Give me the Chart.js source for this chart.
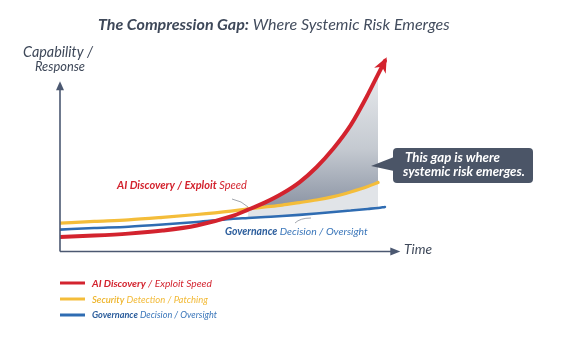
<!DOCTYPE html>
<html><head><meta charset="utf-8">
<script src="https://cdn.jsdelivr.net/npm/chart.js@4/dist/chart.umd.min.js"></script>
<style>html,body{margin:0;padding:0;background:#fff;overflow:hidden}#wrap{width:580px;height:340px}</style>
</head><body><div id="wrap"><canvas id="c" width="580" height="340"></canvas></div>
<script>
// ---- data ----
const timeSteps          = [0, 10, 20, 30, 40, 50, 55, 60, 65, 70, 75, 80, 85, 90, 93, 95];
const aiDiscovery        = [7.3, 8.0, 9.0, 10.6, 13.2, 17.9, 21.4, 25.2, 29.8, 35.6, 43.4, 53.2, 65.2, 81.0, 91.5, 98.5];
const securityDetection  = [14.4, 15.3, 16.1, 17.4, 18.9, 20.7, 21.8, 22.8, 23.8, 25.1, 26.4, 28.2, 30.6, 33.4, 35.5, null];
const governanceDecision = [11.1, 11.9, 12.6, 13.7, 15.0, 16.6, 17.1, 17.6, 18.1, 18.7, 19.4, 20.2, 21.0, 21.8, 22.3, 22.8];
const gapRange = [55, 93];
const legendLead = ['AI Discovery', 'Security', 'Governance'];
const legendTail = [' / Exploit Speed', ' Detection / Patching', ' Decision / Oversight'];
const titleMain = 'The Compression Gap:';
const titleSub = ' Where Systemic Risk Emerges';
const yTitle = ['Capability /', 'Response'];
const xTitle = 'Time';
const calloutText = ['This gap is where', 'systemic risk emerges.'];

const RED = '#d3232e', YEL = '#f4bd3a', BLU = '#2f6cb2', SLATE = '#3e4859';
const FONT = 'Lato, "Open Sans", "DejaVu Sans", sans-serif';

const pts = arr => timeSteps.map((t, i) => ({x: t, y: arr[i]}));
const inGap = arr => timeSteps.map((t, i) => ({x: t, y: (t >= gapRange[0] && t <= gapRange[1]) ? arr[i] : null}));

function drawRich(ctx, parts, x, y, targetW, baseSize, align) {
  const fontOf = (p, s) => `${p.st || 'italic'} ${p.w || 'normal'} ${s}px ${FONT}`;
  let w = 0;
  parts.forEach(p => { ctx.font = fontOf(p, baseSize); w += ctx.measureText(p.t).width; });
  const size = targetW ? baseSize * targetW / w : baseSize;
  let total = 0;
  parts.forEach(p => { ctx.font = fontOf(p, size); total += ctx.measureText(p.t).width; });
  let cx = align === 'center' ? x - total / 2 : x;
  parts.forEach(p => {
    ctx.font = fontOf(p, size);
    ctx.fillStyle = p.c;
    ctx.fillText(p.t, cx, y);
    cx += ctx.measureText(p.t).width;
  });
}

const deco = {
  id: 'deco',
  afterDatasetsDraw(chart) {
    const {ctx, scales: {x, y}} = chart;
    ctx.save();
    // red arrowhead
    const meta = chart.getDatasetMeta(0);
    const P = meta.data;
    const last = P[P.length - 1], prev = P[P.length - 2];
    const fx = (last.cp1x !== undefined) ? last.cp1x : prev.x;
    const fy = (last.cp1y !== undefined) ? last.cp1y : prev.y;
    const ang = Math.atan2(last.y - fy, last.x - fx);
    const dx = Math.cos(ang), dy = Math.sin(ang), nx = -dy, ny = dx;
    const tipX = last.x + dx * 4, tipY = last.y + dy * 4;
    const bx = tipX - dx * 15, by = tipY - dy * 15;
    ctx.fillStyle = RED;
    ctx.beginPath();
    ctx.moveTo(tipX, tipY);
    ctx.lineTo(bx + nx * 6.5, by + ny * 6.5);
    ctx.lineTo(tipX - dx * 10.5, tipY - dy * 10.5);
    ctx.lineTo(bx - nx * 6.5, by - ny * 6.5);
    ctx.closePath();
    ctx.fill();

    // axes
    const ox = x.getPixelForValue(0), oy = y.getPixelForValue(0) + 0.5;
    const topY = y.getPixelForValue(88), rightX = x.getPixelForValue(99.5);
    ctx.strokeStyle = '#4b5871'; ctx.fillStyle = '#4b5871'; ctx.lineWidth = 1.6;
    ctx.beginPath(); ctx.moveTo(ox, oy); ctx.lineTo(ox, topY + 6); ctx.stroke();
    ctx.beginPath(); ctx.moveTo(ox, topY); ctx.lineTo(ox - 4, topY + 9); ctx.lineTo(ox + 4, topY + 9); ctx.closePath(); ctx.fill();
    ctx.beginPath(); ctx.moveTo(ox, oy); ctx.lineTo(rightX - 6, oy); ctx.stroke();
    ctx.beginPath(); ctx.moveTo(rightX, oy); ctx.lineTo(rightX - 10, oy - 4); ctx.lineTo(rightX - 10, oy + 4); ctx.closePath(); ctx.fill();

    ctx.textBaseline = 'alphabetic';
    // title
    drawRich(ctx, [{t: titleMain, w: 'bold', c: SLATE}, {t: titleSub, c: '#434d5e'}], 98, 30, 352, 15);
    // y title
    drawRich(ctx, [{t: yTitle[0], c: SLATE}], 58, 57, 70, 12, 'center');
    drawRich(ctx, [{t: yTitle[1], c: SLATE}], 60, 71, 50, 12, 'center');
    // x title
    drawRich(ctx, [{t: xTitle, c: SLATE}], 404, 254, 28, 14);

    // inline labels
    drawRich(ctx, [{t: 'AI Discovery / Exploit', w: 'bold', c: RED}, {t: ' Speed', c: RED}], 117, 189, 130, 10.5);
    drawRich(ctx, [{t: 'Governance', w: 'bold', c: '#2b5d9c'}, {t: ' Decision / Oversight', c: '#3a76ba'}], 225, 235, 143, 10.5);
    ctx.strokeStyle = '#8a8f98'; ctx.lineWidth = 0.8;
    ctx.beginPath(); ctx.moveTo(232, 199); ctx.quadraticCurveTo(242, 201, 248, 207); ctx.stroke();
    ctx.beginPath(); ctx.moveTo(295, 223); ctx.quadraticCurveTo(300, 218, 311, 218); ctx.stroke();

    // callout
    ctx.fillStyle = '#4b5567';
    const bx0 = 393, by0 = 148, bw = 140, bh = 35, r = 4;
    ctx.beginPath();
    ctx.moveTo(bx0 + r, by0); ctx.lineTo(bx0 + bw - r, by0); ctx.quadraticCurveTo(bx0 + bw, by0, bx0 + bw, by0 + r);
    ctx.lineTo(bx0 + bw, by0 + bh - r); ctx.quadraticCurveTo(bx0 + bw, by0 + bh, bx0 + bw - r, by0 + bh);
    ctx.lineTo(bx0 + r, by0 + bh); ctx.quadraticCurveTo(bx0, by0 + bh, bx0, by0 + bh - r);
    ctx.lineTo(bx0, by0 + r); ctx.quadraticCurveTo(bx0, by0, bx0 + r, by0);
    ctx.closePath(); ctx.fill();
    ctx.beginPath(); ctx.moveTo(bx0 + 1, 157); ctx.lineTo(371, 166); ctx.lineTo(bx0 + 1, 171); ctx.closePath(); ctx.fill();
    drawRich(ctx, [{t: calloutText[0], w: 'bold', c: '#ffffff'}], 405, 162, 95, 11);
    drawRich(ctx, [{t: calloutText[1], w: 'bold', c: '#ffffff'}], 403, 176, 122, 11);

    // legend
    const colors = [RED, YEL, BLU];
    const leadColors = [RED, '#eeb42a', '#2b5d9c'];
    const tailColors = [RED, '#f2b935', '#3a76ba'];
    const leadW = ['bold', '600', 'bold'];
    const widths = [120, 116, 125];
    const ly = [283, 299, 315];
    ctx.textBaseline = 'middle';
    legendLead.forEach((lead, i) => {
      ctx.strokeStyle = colors[i]; ctx.lineWidth = 3; ctx.lineCap = 'butt';
      ctx.beginPath(); ctx.moveTo(60, ly[i]); ctx.lineTo(85, ly[i]); ctx.stroke();
      drawRich(ctx, [{t: lead, w: leadW[i], c: leadColors[i]}, {t: legendTail[i], c: tailColors[i]}], 92, ly[i] + 0.5, widths[i], 9.5);
    });
    ctx.restore();
  }
};

const chart = new Chart(document.getElementById('c'), {
  type: 'line',
  data: {
    datasets: [
      {label: 'AI Discovery / Exploit Speed', data: pts(aiDiscovery), borderColor: RED, borderWidth: 4, fill: false},
      {label: 'Security Detection / Patching', data: pts(securityDetection), borderColor: YEL, borderWidth: 3.2, fill: false},
      {label: 'Governance Decision / Oversight', data: pts(governanceDecision), borderColor: BLU, borderWidth: 2.6, fill: false},
      {label: 'gap-upper', data: inGap(aiDiscovery), borderWidth: 0, borderColor: 'rgba(0,0,0,0)', fill: 1,
        backgroundColor(c) {
          const ch = c.chart, a = ch.chartArea;
          if (!a) return 'rgba(0,0,0,0)';
          const g = ch.ctx.createLinearGradient(0, a.top, 0, ch.scales.y.getPixelForValue(22));
          g.addColorStop(0, '#eef0f2'); g.addColorStop(0.6, '#c5cad1'); g.addColorStop(1, '#8a93a3');
          return g;
        }},
      {label: 'gap-lower', data: inGap(securityDetection), borderWidth: 0, borderColor: 'rgba(0,0,0,0)', fill: 2, backgroundColor: '#e1e4e8'}
    ]
  },
  options: {
    responsive: false, animation: false, devicePixelRatio: 1,
    layout: {padding: {left: 60, right: 178, top: 58, bottom: 89}},
    elements: {point: {radius: 0, hoverRadius: 0}, line: {cubicInterpolationMode: 'monotone', borderCapStyle: 'round'}},
    scales: {
      x: {type: 'linear', min: 0, max: 100, display: false},
      y: {min: 0, max: 100, display: false}
    },
    plugins: {legend: {display: false}, tooltip: {enabled: false}, title: {display: false}}
  },
  plugins: [deco]
});
if (document.fonts && document.fonts.ready) document.fonts.ready.then(() => chart.draw());
</script></body></html>
